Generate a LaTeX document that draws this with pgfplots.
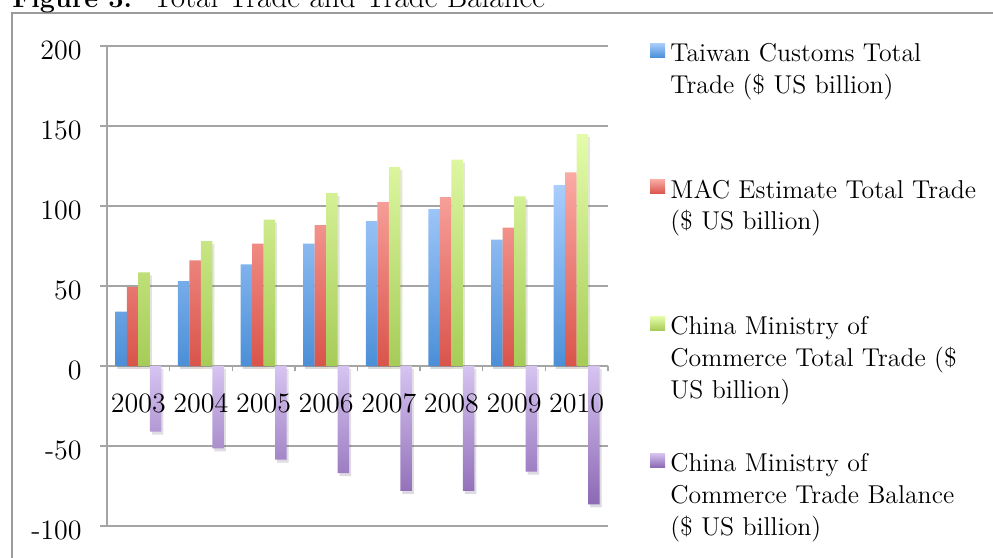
\documentclass[border=0pt]{standalone}
\usepackage{pgfplots}
\pgfplotsset{compat=1.18}
\definecolor{bluetop}{HTML}{A9CDFD}
\definecolor{bluebot}{HTML}{4B8FD7}
\definecolor{redtop}{HTML}{FBAAA4}
\definecolor{redbot}{HTML}{D9544B}
\definecolor{greentop}{HTML}{E4FCAA}
\definecolor{greenbot}{HTML}{A6CC57}
\definecolor{purptop}{HTML}{D6C4F1}
\definecolor{purpbot}{HTML}{8C69B4}
\definecolor{gridgray}{HTML}{A5A5A5}
\definecolor{framegray}{HTML}{9B9B9B}
\newcommand{\lentry}[1]{\parbox[t]{200pt}{\fontsize{12.9}{15.85}\selectfont\raggedright #1}}

\pgfplotstableread{
x  taiwan  mac    china  balance
0  34     49.5   58.5   -41
1  53     66     78     -51.5
2  63.5   76.5   91.5   -58.5
3  76.5   88     108    -67
4  90.5   102.5  124.5  -78
5  98     105.5  129    -78
6  79     86.5   106    -66
7  113    121    145    -86.5
}\datatable

\tikzset{barshadow/.style={preaction={fill=black, fill opacity=0.10, draw=none, transform canvas={shift={(1pt,-1.5pt)}}}},
  yearlabel/.style={anchor=base, inner sep=0pt, yshift=-23.25pt, font=\fontsize{14}{16}\selectfont}}

\begin{document}
\begin{tikzpicture}[x=1pt,y=1pt]
\useasboundingbox (0,0) rectangle (496.5,279);
\clip (0,0) rectangle (496.5,279);
\draw[framegray, line width=0.75pt] (6,-2) -- (6,272.6) -- (500,272.6);
\node[anchor=base west, inner sep=0pt, font=\fontsize{13.5}{17}\selectfont\bfseries] at (6,275.3) {Figure 3.};
\node[anchor=base west, inner sep=0pt, font=\fontsize{15.6}{18}\selectfont] at (76,275.3) {Total Trade and Trade Balance};
\begin{axis}[
  at={(53.5pt,16pt)}, anchor=south west, scale only axis,
  width=250.5pt, height=240pt,
  xmin=-0.5, xmax=7.5, ymin=-100, ymax=200,
  axis y line*=left, axis x line*=middle,
  axis line style={gridgray, line width=0.7pt},
  ytick={-100,-50,0,50,100,150,200},
  yticklabels={-100,-50,0,50,100,150,200},
  ymajorgrids, major grid style={gridgray, line width=0.7pt},
  xtick={0,1,2,3,4,5,6,7},
  xticklabels={\relax,\relax,\relax,\relax,\relax,\relax,\relax,\relax},
  minor xtick={0.5,1.5,2.5,3.5,4.5,5.5,6.5,7.5},
  tick align=outside,
  major tick length=3.5pt,
  minor tick length=2.5pt,
  tick style={gridgray, line width=0.7pt},
  major x tick style={draw=none},
  yticklabel style={font=\fontsize{14}{16}\selectfont, anchor=east, inner sep=0pt, xshift=-9pt, yshift=-2pt},
  bar width=0.184,
]
\addplot[ybar, bar shift=-0.276, draw=none, barshadow, top color=bluetop, bottom color=bluebot]
  table[x=x, y=taiwan] {\datatable};
\addplot[ybar, bar shift=-0.092, draw=none, barshadow, top color=redtop, bottom color=redbot]
  table[x=x, y=mac] {\datatable};
\addplot[ybar, bar shift=0.092, draw=none, barshadow, top color=greentop, bottom color=greenbot]
  table[x=x, y=china] {\datatable};
\addplot[ybar, bar shift=0.276, draw=none, barshadow, top color=purptop, bottom color=purpbot]
  table[x=x, y=balance] {\datatable};
\node[yearlabel] at (axis cs:0,0) {2003};
\node[yearlabel] at (axis cs:1,0) {2004};
\node[yearlabel] at (axis cs:2,0) {2005};
\node[yearlabel] at (axis cs:3,0) {2006};
\node[yearlabel] at (axis cs:4,0) {2007};
\node[yearlabel] at (axis cs:5,0) {2008};
\node[yearlabel] at (axis cs:6,0) {2009};
\node[yearlabel] at (axis cs:7,0) {2010};
\end{axis}
% legend
\fill[top color=bluetop, bottom color=bluebot] (325,250.35) rectangle (332.5,257.35);
\node[anchor=base west, inner sep=0pt] at (335,248) {\lentry{Taiwan Customs Total\\Trade (\$ US billion)}};
\fill[top color=redtop, bottom color=redbot] (325,182.2) rectangle (332.5,189.2);
\node[anchor=base west, inner sep=0pt] at (335,179.85) {\lentry{MAC Estimate Total Trade\\(\$ US billion)}};
\fill[top color=greentop, bottom color=greenbot] (325,113.85) rectangle (332.5,120.85);
\node[anchor=base west, inner sep=0pt] at (335,111.5) {\lentry{China Ministry of\\Commerce Total Trade (\$\\US billion)}};
\fill[top color=purptop, bottom color=purpbot] (325,45.35) rectangle (332.5,52.35);
\node[anchor=base west, inner sep=0pt] at (335,43) {\lentry{China Ministry of\\Commerce Trade Balance\\(\$ US billion)}};
\end{tikzpicture}
\end{document}
